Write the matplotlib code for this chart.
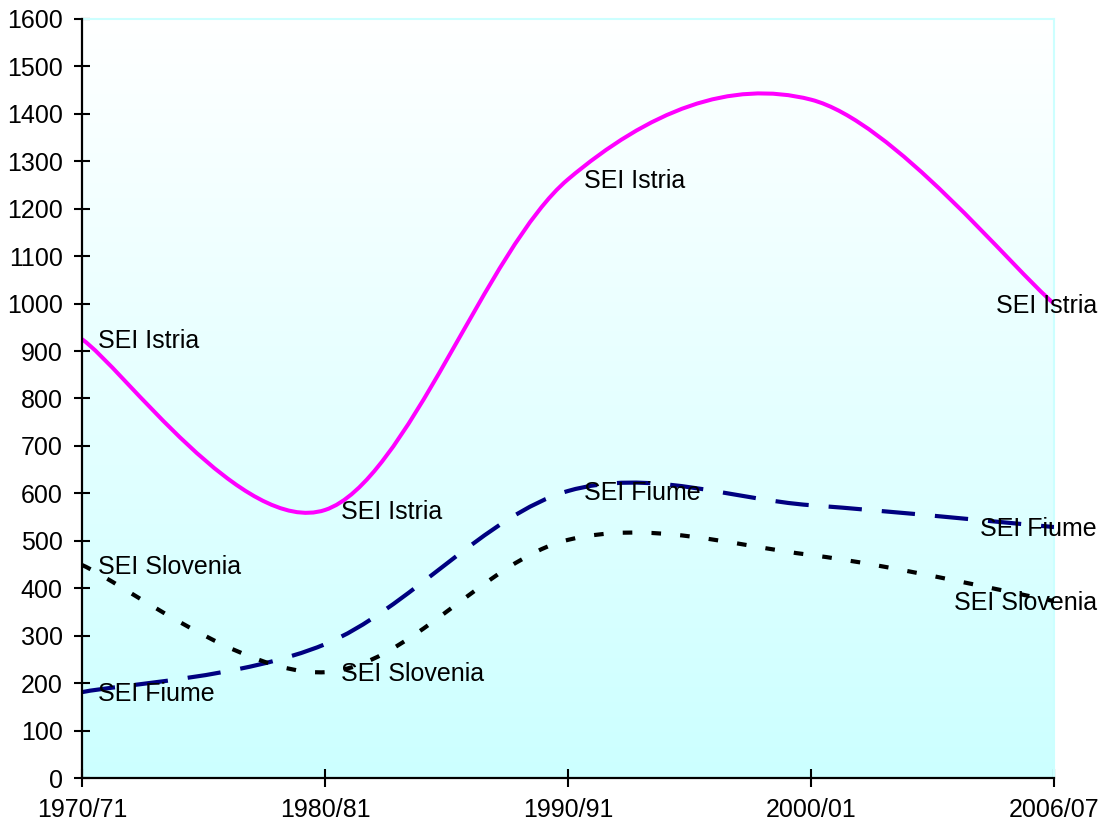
import numpy as np
import matplotlib.pyplot as plt
from matplotlib.path import Path
from matplotlib.patches import PathPatch

plt.rcParams['font.family'] = ['Liberation Sans', 'DejaVu Sans']

years = ['1970/71', '1980/81', '1990/91', '2000/01', '2006/07']
istria = [925, 565, 1262, 1430, 1000]
fiume = [181, 282, 605, 575, 529]
slovenia = [449, 223, 502, 470, 373]

# which points carry a series-name label
istria_labels = [0, 1, 2, 4]
fiume_labels = [0, 2, 4]
slovenia_labels = [0, 1, 4]


def smooth_path(xs, ys):
    """Bezier path through the points (Catmull-Rom style, like spreadsheet smoothed lines)."""
    pts = np.column_stack([xs, ys]).astype(float)
    ext = np.vstack([pts[0], pts, pts[-1]])
    verts = [pts[0]]
    codes = [Path.MOVETO]
    for i in range(len(pts) - 1):
        p0, p1, p2, p3 = ext[i], ext[i + 1], ext[i + 2], ext[i + 3]
        c1 = p1 + (p2 - p0) / 6.0
        c2 = p2 - (p3 - p1) / 6.0
        verts += [c1, c2, p2]
        codes += [Path.CURVE4] * 3
    return Path(verts, codes)


fig = plt.figure(figsize=(11.04, 8.27), dpi=100)
ax = fig.add_axes([82 / 1104, 1 - 778 / 827, (1054 - 82) / 1104, (778 - 19) / 827])

# plot area background: white at top fading to pale cyan
grad = np.linspace(0, 1, 256)[:, None]
top = np.array([1.0, 1.0, 1.0])
bottom = np.array([204, 255, 255]) / 255
img = top + (bottom - top) * grad[..., None]
ax.imshow(img, aspect='auto', extent=[0, 1, 0, 1], transform=ax.transAxes, zorder=0)

x = np.arange(len(years))
series = [
    (istria, '#ff00ff', 'solid', 2.9, istria_labels, 'SEI Istria'),
    (fiume, '#000080', (0, (8.0, 4.8)), 3.0, fiume_labels, 'SEI Fiume'),
    (slovenia, '#000000', (0, (2.3, 4.6)), 3.0, slovenia_labels, 'SEI Slovenia'),
]
for vals, col, ls, lw, lab_idx, name in series:
    patch = PathPatch(smooth_path(x, vals), fill=False, edgecolor=col, linewidth=lw,
                      linestyle=ls, capstyle='butt', joinstyle='round', zorder=3)
    ax.add_patch(patch)
    for i in lab_idx:
        if i == len(x) - 1:
            ax.annotate(name, (x[i], vals[i]), xytext=(31, -1.5), textcoords='offset points',
                        ha='right', va='center', fontsize=18, zorder=5, annotation_clip=False)
        else:
            ax.annotate(name, (x[i], vals[i]), xytext=(11.5, -1.5), textcoords='offset points',
                        ha='left', va='center', fontsize=18, zorder=5)

ax.set_xlim(0, len(years) - 1)
ax.set_ylim(0, 1600)
ax.set_xticks(x)
ax.set_xticklabels(years)
ax.set_yticks(np.arange(0, 1601, 100))

for side in ['top', 'right']:
    ax.spines[side].set_color('#ccffff')
    ax.spines[side].set_linewidth(1.5)
for side in ['left', 'bottom']:
    ax.spines[side].set_color('black')
    ax.spines[side].set_linewidth(1.6)
    ax.spines[side].set_zorder(4)

ax.tick_params(axis='y', direction='inout', length=12, width=1.5, pad=8, labelsize=18)
ax.tick_params(axis='x', direction='inout', length=13, width=1.5, pad=8, labelsize=18)

fig.savefig('out.png', dpi=100)
